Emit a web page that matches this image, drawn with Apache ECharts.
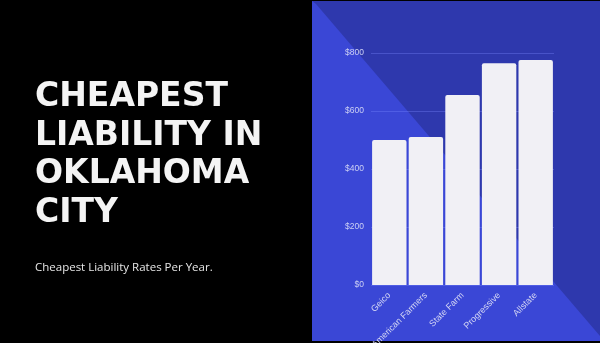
<!DOCTYPE html>
<html>
<head>
<meta charset="UTF-8">
<title>Cheapest Liability in Oklahoma City</title>
<script src="https://cdn.jsdelivr.net/npm/echarts@6/dist/echarts.min.js"></script>
<style>
  html, body { margin: 0; padding: 0; background: #000; }
  #chart { width: 600px; height: 343px; }
</style>
</head>
<body>
<div id="chart"></div>
<script>
// data
var companies = ['Geico', 'American Farmers', 'State Farm', 'Progressive', 'Allstate'];
var rates = [500, 510, 655, 765, 776];
var yTicks = [0, 200, 400, 600, 800];

var titleLines = ['CHEAPEST', 'LIABILITY IN', 'OKLAHOMA', 'CITY'];
var subtitle = 'Cheapest Liability Rates Per Year.';

var myChart = echarts.init(document.getElementById('chart'));

var graphics = [
  // black page
  { type: 'rect', z: -10, shape: { x: 0, y: 0, width: 600, height: 343 }, style: { fill: '#000' } },
  // blue panel, dark upper-right half
  { type: 'rect', z: -9, shape: { x: 312, y: 1, width: 288, height: 340 }, style: { fill: '#2e38ad' } },
  // lighter lower-left half
  { type: 'polygon', z: -8, shape: { points: [[312, 1], [316, 4], [600, 336], [600, 341], [312, 341]] }, style: { fill: '#3a47d6' } }
];
titleLines.forEach(function (t, i) {
  graphics.push({
    type: 'text', x: 35, y: 97.5 + i * 38.5,
    style: { text: t, fill: '#f4f4f4', font: 'bold 33px "DejaVu Sans"', verticalAlign: 'middle' }
  });
});
graphics.push({
  type: 'text', x: 35, y: 268,
  style: { text: subtitle, fill: '#e6e6e6', font: '11.5px "Open Sans"', verticalAlign: 'middle' }
});

var option = {
  animation: false,
  backgroundColor: '#000',
  graphic: graphics,
  grid: { left: 371, right: 46, top: 53, bottom: 58, containLabel: false, outerBoundsMode: 'none' },
  xAxis: {
    type: 'category',
    data: companies,
    axisLine: { show: false },
    axisTick: { show: false },
    axisLabel: { rotate: 45, color: '#d4d6f4', fontSize: 9, fontFamily: 'Liberation Sans', margin: 9 }
  },
  yAxis: {
    type: 'value',
    min: yTicks[0],
    max: yTicks[yTicks.length - 1],
    interval: 200,
    axisLine: { show: false },
    axisTick: { show: false },
    splitLine: { lineStyle: { color: 'rgba(120,135,255,0.35)', width: 1 } },
    axisLabel: { color: '#ccd0f4', fontSize: 8.5, fontFamily: 'Liberation Sans', margin: 7,
      formatter: function (v) { return '$' + v; } }
  },
  series: [{
    type: 'bar',
    data: rates,
    barCategoryGap: '6%',
    itemStyle: { color: '#f1f0f5', borderRadius: [2, 2, 0, 0] }
  }]
};

myChart.setOption(option);
</script>
</body>
</html>
